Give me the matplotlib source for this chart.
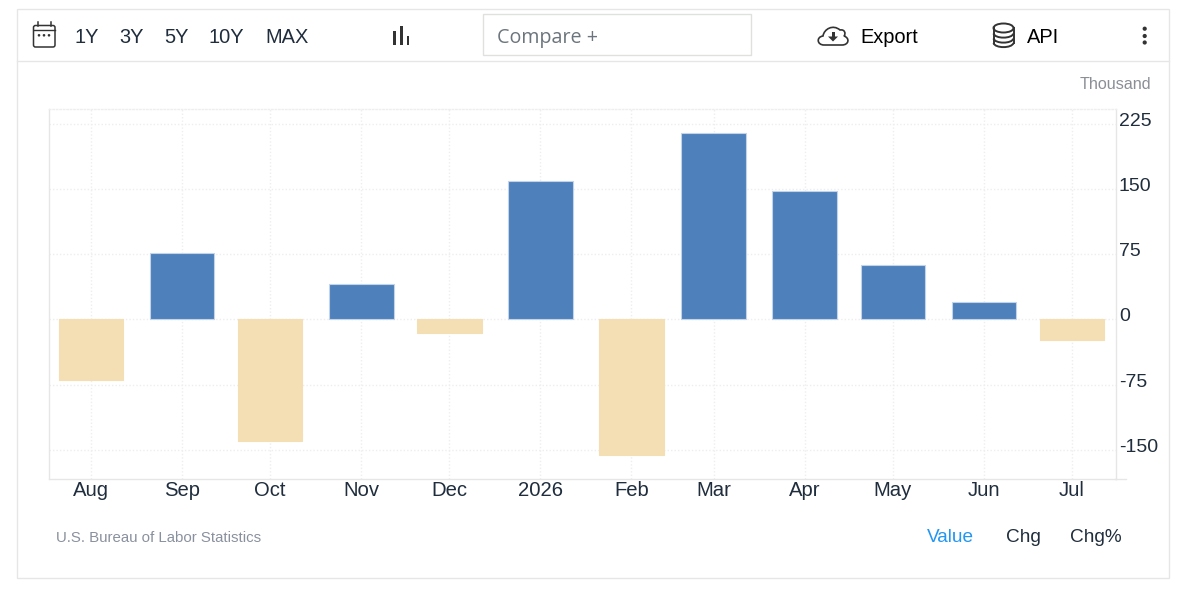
"""Monthly change bar chart with its toolbar frame."""
from datetime import date

import matplotlib
matplotlib.use("Agg")
import matplotlib.dates as mdates
import matplotlib.pyplot as plt
from matplotlib.patches import Circle, Ellipse, FancyBboxPatch, PathPatch, Polygon, Rectangle
from matplotlib.path import Path
from matplotlib.transforms import ScaledTranslation

months = [date(2025, m, 1) for m in range(8, 13)] + [date(2026, m, 1) for m in range(1, 8)]
month_labels = ["Aug", "Sep", "Oct", "Nov", "Dec", "2026", "Feb", "Mar", "Apr", "May", "Jun", "Jul"]
values = [-70, 76, -140, 41, -16, 159, -156, 214, 147, 62, 20, -24]
y_ticks = [-150, -75, 0, 75, 150, 225]
range_buttons = [("1Y", 75), ("3Y", 119), ("5Y", 164), ("10Y", 209), ("MAX", 265)]
mode_buttons = [("Value", 927, "#2196f3"), ("Chg", 1006, "#1f2d3d"), ("Chg%", 1070, "#1f2d3d")]

W, H = 1184, 592
LINE = "#e6e6e6"
GRID = "#eeeeee"
INK = "#1f2d3d"
ICON = "#333333"

plt.rcParams["font.family"] = ["Liberation Sans", "DejaVu Sans"]
plt.rcParams["axes.unicode_minus"] = False

fig = plt.figure(figsize=(W / 100, H / 100), dpi=100, facecolor="white")

# plot area, placed in pixels
left, right, top, bottom = 48.5, 1115.5, 109.3, 479.3
ax = fig.add_axes([left / W, 1 - bottom / H, (right - left) / W, (bottom - top) / H])
px_per_day = 2.937
bar_days = 64.6 / px_per_day
month_nums = [mdates.date2num(m) for m in months]
colors = ["#4e80bc" if v >= 0 else "#f4deb3" for v in values]
edges = ["#c3d3e8" if v >= 0 else "#f4deb3" for v in values]
ax.bar(month_nums, values, width=bar_days, color=colors, edgecolor=edges, linewidth=0.8, zorder=3)
# dates drop fractions of a day, so the limits are set on the numeric date scale
ax.set_xlim(month_nums[0] - 14.47, month_nums[0] + 348.8)
ax.set_ylim(-183.6, 241.4)
ax.set_xticks(month_nums)
ax.set_xticklabels(month_labels, fontsize=14.6, color=INK)
ax.set_yticks(y_ticks)
ax.yaxis.tick_right()
ax.tick_params(axis="both", length=0)
ax.tick_params(axis="x", pad=1.5)
ax.tick_params(axis="y", pad=2.5, labelsize=14, labelcolor=INK)
for label in ax.get_yticklabels():
    label.set_transform(label.get_transform() + ScaledTranslation(0, 4.5 / 100, fig.dpi_scale_trans))
ax.grid(True, color=GRID, linewidth=1, linestyle=(0, (1, 1.5)), zorder=0)
ax.set_axisbelow(True)
for side in ("left", "right", "bottom"):
    ax.spines[side].set_color(LINE)
    ax.spines[side].set_linewidth(1)
ax.spines["top"].set_color(GRID)
ax.spines["top"].set_linewidth(1)
ax.spines["top"].set_linestyle((0, (1, 1.5)))

# frame, toolbar and footer, drawn in pixel coordinates
ui = fig.add_axes([0, 0, 1, 1], facecolor="none")
ui.set_xlim(0, W)
ui.set_ylim(H, 0)
ui.axis("off")

ui.add_patch(Rectangle((17, 9), 1152, 569, fill=False, edgecolor=LINE, linewidth=1))
ui.plot([17, 1169], [61, 61], color=LINE, linewidth=1)
ui.plot([1115, 1126], [479.3, 479.3], color=LINE, linewidth=1)
ui.add_patch(Rectangle((483, 14), 268, 41, fill=False, edgecolor="#dfe2dc", linewidth=1))

for text, x in range_buttons:
    ui.text(x, 37.2, text, fontsize=14.4, color=INK, va="center", ha="left")
ui.text(497, 37.5, "Compare +", fontsize=14.2, color="#6c757d", va="center", ha="left", family="Open Sans")
ui.text(860, 37.2, "Export", fontsize=14.4, color="black", va="center", ha="left")
ui.text(1027, 37.2, "API", fontsize=14.4, color="black", va="center", ha="left")
ui.text(1151.5, 84.8, "Thousand", fontsize=11.6, color="#8a8f96", va="center", ha="right")
ui.text(56, 537.8, "U.S. Bureau of Labor Statistics", fontsize=10.8, color="#8a919e", va="center", ha="left")
for text, x, color in mode_buttons:
    ui.text(x, 537.8, text, fontsize=13.7, color=color, va="center", ha="left")

# calendar icon
ui.add_patch(FancyBboxPatch((33.5, 25.5), 21.5, 21.5, boxstyle="round,pad=0,rounding_size=2",
                            fill=False, edgecolor=ICON, linewidth=1.1))
ui.plot([33.5, 55], [30, 30], color=ICON, linewidth=1)
for x in (37.5, 50.7):
    ui.plot([x, x], [22, 25.5], color=ICON, linewidth=1.1)
for x in (39, 44, 49):
    ui.add_patch(Circle((x, 35.3), 1.3, color=ICON, linewidth=0))

# bar chart icon
for x, y0, w in ((393, 31, 3), (399.5, 25.5, 3), (406.5, 36, 2.5)):
    ui.add_patch(Rectangle((x, y0), w, 44.5 - y0, color=ICON, linewidth=0))

# export cloud icon
cloud = Path(
    [(824, 45), (817, 45), (816, 37), (823, 36), (824, 29), (833, 24), (840, 30),
     (845, 29), (846, 34), (844, 36), (850, 38), (849, 45), (842, 45), (824, 45)],
    [Path.MOVETO, Path.CURVE4, Path.CURVE4, Path.CURVE4, Path.CURVE4, Path.CURVE4, Path.CURVE4,
     Path.CURVE4, Path.CURVE4, Path.CURVE4, Path.CURVE4, Path.CURVE4, Path.CURVE4, Path.CLOSEPOLY],
)
ui.add_patch(PathPatch(cloud, fill=False, edgecolor=ICON, linewidth=1.2))
ui.add_patch(Rectangle((831.5, 32), 3, 5, color=ICON, linewidth=0))
ui.add_patch(Polygon([(828, 36.5), (838, 36.5), (833, 41.5)], color=ICON, linewidth=0))

# database icon
ui.add_patch(Ellipse((1003.5, 28), 20, 9, fill=False, edgecolor=ICON, linewidth=1.4))
for side_x in (993.5, 1013.5):
    ui.plot([side_x, side_x], [28, 43], color=ICON, linewidth=1.4)
for y0 in (33.5, 38.5, 43):
    arc = Path([(993.5, y0), (995, y0 + 5.5), (1012, y0 + 5.5), (1013.5, y0)],
               [Path.MOVETO, Path.CURVE4, Path.CURVE4, Path.CURVE4])
    ui.add_patch(PathPatch(arc, fill=False, edgecolor=ICON, linewidth=1.4))

# overflow menu dots
for y0 in (28.7, 36, 42.5):
    ui.add_patch(Circle((1144.7, y0), 2.1, color=ICON, linewidth=0))

fig.savefig("out.png", dpi=100)
plt.close(fig)
